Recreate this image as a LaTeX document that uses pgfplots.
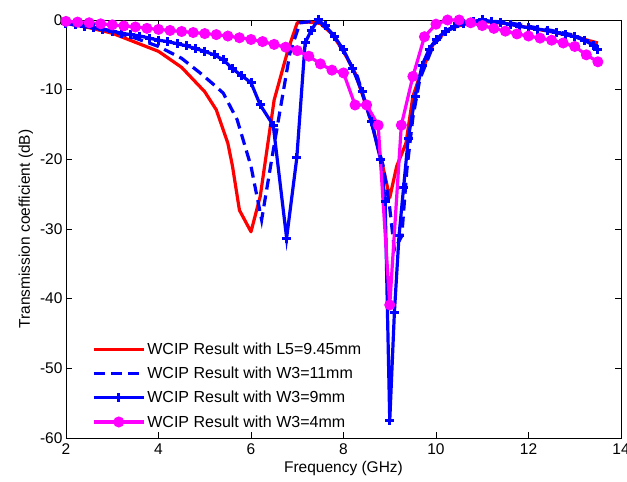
\documentclass[border=0pt]{standalone}
\usepackage{fontspec}
\setmainfont{Liberation Sans}
\usepackage{pgfplots}
\pgfplotsset{compat=1.18}
\definecolor{mred}{RGB}{255,0,0}
\definecolor{mblue}{RGB}{0,0,255}
\definecolor{mmag}{RGB}{255,0,255}
\begin{document}
\begin{tikzpicture}
\begin{axis}[
  scale only axis, width=555pt, height=418pt,
  xmin=2, xmax=14, ymin=-60, ymax=0,
  xtick={2,4,...,14}, ytick={-60,-50,...,0},
  xtick pos=both, ytick pos=both,
  xticklabel pos=bottom, yticklabel pos=left,
  tick align=inside, major tick length=6pt,
  tick style={black, line width=0.8pt},
  axis line style={line width=0.8pt},
  clip=false,
  /pgf/number format/assume math mode=true,
  ticklabel style={font=\fontsize{15.5}{18}\selectfont},
  xticklabel style={yshift=-2pt},
  label style={font=\fontsize{15.5}{18}\selectfont},
  xlabel={Frequency (GHz)},
  ylabel={Transmission coefficient (dB)},
  legend style={draw=none, fill=none, at={(rel axis cs:0.045,0.015)}, anchor=south west,
    font=\fontsize{16}{19}\selectfont, row sep=7pt, inner sep=1pt},
  legend cell align=left,
  legend image code/.code={\draw[mark repeat=2,mark phase=2,#1] plot coordinates {(0pt,0pt) (25pt,0pt) (50pt,0pt)};},
]
\coordinate (SW) at (rel axis cs:0,0);
\coordinate (NE) at (rel axis cs:1,1);
% L5 = 9.45 mm
\addplot[mred, line width=3.2pt, line join=round] coordinates {
(2.0,-0.5) (2.5,-1.1) (3.0,-1.9) (3.5,-3.2) (4.0,-4.5) (4.5,-6.8) (5.0,-10.3)
(5.25,-12.9) (5.5,-17.7) (5.6,-21) (5.75,-27.3) (6.0,-30.4) (6.2,-25.3)
(6.5,-11.5) (6.8,-4.3) (7.0,-0.4) (7.25,-0.3) (7.5,-0.5) (7.75,-2.0) (8.0,-4.5)
(8.25,-7.6) (8.5,-12.5) (8.65,-15.8) (8.85,-21) (9.0,-25.5) (9.15,-21)
(9.35,-17.7) (9.5,-11) (9.65,-8) (9.95,-3.3) (10.25,-1.4) (10.6,-0.6)
(11.0,-0.2) (11.5,-0.5) (12.0,-1.1) (12.5,-1.7) (13.0,-2.4) (13.5,-3.3)
};
\addlegendentry{WCIP Result with L5=9.45mm}
% W3 = 11 mm
\addplot[mblue, line width=3.2pt, dash pattern=on 11pt off 6pt] coordinates {
(2.0,-0.5) (2.5,-1.0) (3.0,-1.6) (3.3,-2.2) (3.5,-2.6) (4.0,-3.8) (4.5,-5.5)
(4.9,-7.6) (5.2,-9.3) (5.4,-10.5) (5.7,-14.3) (6.0,-21) (6.23,-28.7)
(6.41,-21.5) (6.63,-12.9) (6.84,-4.8) (7.06,-0.4) (7.3,-0.2) (7.5,-0.3)
(7.75,-2.0) (8.0,-4.5) (8.3,-8.1) (8.65,-15.8) (8.86,-21) (9.0,-27) (9.1,-33)
(9.26,-31) (9.37,-21.5) (9.5,-14) (9.65,-8.5) (9.95,-3.5) (10.25,-1.5)
(10.6,-0.6) (11.0,-0.1) (11.5,-0.3) (12.0,-0.9) (12.5,-1.5) (13.0,-2.2) (13.5,-3.8)
};
\addlegendentry{WCIP Result with W3=11mm}
% W3 = 9 mm
\addplot[mblue, line width=3.2pt, mark=+, mark size=4.5pt, mark options={solid, line width=3pt}] coordinates {
(2.0,-0.5) (2.2,-0.7) (2.4,-0.9) (2.6,-1.1) (2.8,-1.3) (3.0,-1.6) (3.2,-1.9)
(3.4,-2.1) (3.6,-2.3) (3.8,-2.6) (4.0,-2.9) (4.2,-3.1) (4.4,-3.4) (4.6,-3.7)
(4.8,-4.1) (5.0,-4.5) (5.2,-5.0) (5.4,-5.7) (5.6,-7.0) (5.8,-8.0) (6.0,-9.0)
(6.2,-12.2) (6.48,-15.1) (6.77,-31.3) (6.99,-19.8) (7.17,-3.3) (7.3,-1.5)
(7.45,0) (7.6,-0.8) (7.8,-2.3) (8.0,-4.3) (8.2,-7.0) (8.4,-10.3) (8.6,-14.5)
(8.8,-20) (8.9,-26) (9.0,-57.5) (9.1,-42) (9.2,-31) (9.3,-24) (9.4,-17)
(9.55,-11) (9.7,-6.5) (9.85,-4.2) (10.0,-2.8) (10.2,-1.6) (10.4,-0.9)
(10.6,-0.5) (10.8,-0.2) (11.0,0) (11.2,-0.2) (11.4,-0.4) (11.6,-0.6)
(11.8,-0.9) (12.0,-1.1) (12.2,-1.3) (12.4,-1.5) (12.6,-1.8) (12.8,-2.1)
(13.0,-2.4) (13.2,-2.9) (13.4,-3.6) (13.5,-4.3)
};
\addlegendentry{WCIP Result with W3=9mm}
% W3 = 4 mm
\addplot[mmag, line width=3.2pt, mark=*, mark size=5pt, mark options={solid, line width=1pt, fill=mmag}] coordinates {
(2.00,-0.2) (2.25,-0.3) (2.50,-0.4) (2.75,-0.55) (3.00,-0.7) (3.25,-0.85)
(3.50,-1.0) (3.75,-1.2) (4.00,-1.35) (4.25,-1.5) (4.50,-1.65) (4.75,-1.8)
(5.00,-1.95) (5.25,-2.1) (5.50,-2.3) (5.75,-2.55) (6.00,-2.8) (6.25,-3.1)
(6.50,-3.5) (6.75,-3.9) (7.00,-4.4) (7.25,-5.2) (7.50,-6.3) (7.75,-7.2)
(8.00,-7.6) (8.25,-12.2) (8.50,-12.2) (8.75,-15.1) (9.00,-40.9) (9.25,-15.1)
(9.50,-8.1) (9.75,-2.4) (10.00,-0.6) (10.25,0) (10.50,0) (10.75,-0.4)
(11.00,-0.8) (11.25,-1.2) (11.50,-1.6) (11.75,-2.0) (12.00,-2.3) (12.25,-2.6)
(12.50,-2.9) (12.75,-3.3) (13.00,-3.8) (13.25,-5.0) (13.50,-6.0)
};
\addlegendentry{WCIP Result with W3=4mm}
\end{axis}
\pgfresetboundingbox
\path ([shift={(-66pt,-44pt)}]SW) rectangle ([shift={(6pt,20pt)}]NE);
\end{tikzpicture}
\end{document}
